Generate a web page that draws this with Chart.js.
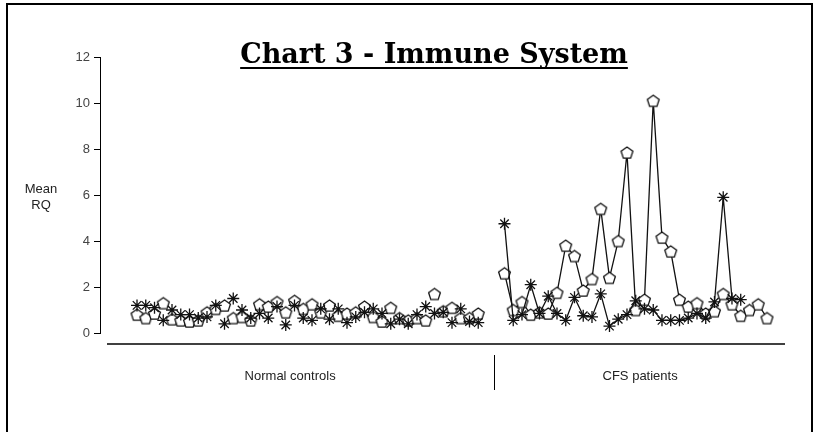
<!DOCTYPE html>
<html>
<head>
<meta charset="utf-8">
<script src="https://cdn.jsdelivr.net/npm/chart.js@4/dist/chart.umd.min.js"></script>
<style>
  html, body { margin: 0; padding: 0; background: #fff; }
  #wrap { position: relative; width: 817px; height: 432px; }
</style>
</head>
<body>
<div id="wrap"><canvas id="myChart"></canvas></div>
<script>
const groups = ['Normal controls', 'CFS patients'];
const yTicks = [0, 2, 4, 6, 8, 10, 12];

// mean RQ per subject
const normalPentagon = [0.8, 0.65, 0.85, 1.3, 0.6, 0.55, 0.5, 0.55, 0.9, 1.05,
  1.2, 0.65, 0.7, 0.55, 1.25, 1.15, 1.35, 0.9, 1.4, 1.05,
  1.25, 0.9, 1.2, 0.75, 0.85, 0.9, 1.15, 0.7, 0.5, 1.1,
  0.65, 0.55, 0.65, 0.55, 1.7, 0.95, 1.1, 0.65, 0.65, 0.85];
const normalAsterisk = [1.2, 1.2, 1.1, 0.55, 1.0, 0.8, 0.8, 0.65, 0.7, 1.2,
  0.4, 1.5, 1.0, 0.65, 0.85, 0.65, 1.15, 0.35, 1.2, 0.65,
  0.55, 1.05, 0.6, 1.05, 0.45, 0.7, 0.9, 1.05, 0.85, 0.4,
  0.6, 0.4, 0.8, 1.15, 0.85, 0.9, 0.45, 1.05, 0.5, 0.45];
const cfsPentagon = [2.6, 1.0, 1.35, 0.8, 0.9, 0.85, 1.75, 3.8, 3.35, 1.85,
  2.35, 5.4, 2.4, 4.0, 7.85, 1.0, 1.45, 10.1, 4.15, 3.55,
  1.45, 1.15, 1.3, 0.85, 0.95, 1.7, 1.25, 0.75, 1.0, 1.25, 0.65];
const cfsAsterisk = [4.75, 0.55, 0.8, 2.1, 0.85, 1.6, 0.85, 0.55, 1.55, 0.75,
  0.7, 1.7, 0.3, 0.6, 0.8, 1.4, 1.05, 1.0, 0.55, 0.55,
  0.55, 0.65, 0.85, 0.65, 1.35, 5.9, 1.5, 1.45, null, null, null];

const groupGap = 3;
const cfsStart = normalPentagon.length - 1 + groupGap;

function toPoints(values, start) {
  return values.map((v, i) => ({ x: start + i, y: v }));
}

function makePentagon() {
  const c = document.createElement('canvas');
  c.width = 15;
  c.height = 15;
  const g = c.getContext('2d');
  g.beginPath();
  for (let k = 0; k < 5; k++) {
    const a = -Math.PI / 2 + k * 2 * Math.PI / 5;
    const px = 7.5 + 6.2 * Math.cos(a);
    const py = 8.2 + 6.2 * Math.sin(a);
    if (k === 0) g.moveTo(px, py); else g.lineTo(px, py);
  }
  g.closePath();
  g.fillStyle = '#fff';
  g.fill();
  g.strokeStyle = '#111';
  g.lineWidth = 1.3;
  g.stroke();
  return c;
}
const pentagon = makePentagon();

const sansFont = "'Liberation Sans', Arial, sans-serif";

const pentStyle = {
  pointStyle: pentagon,
  borderColor: '#111',
  backgroundColor: '#fff',
  borderWidth: 1.3,
  order: 1
};
const astStyle = {
  pointStyle: 'star',
  pointRadius: 6,
  pointBorderWidth: 1.3,
  borderColor: '#111',
  backgroundColor: '#111',
  borderWidth: 1.3,
  order: 0
};

const decorations = {
  id: 'decorations',
  afterDraw(chart) {
    const { ctx, chartArea, scales } = chart;
    const x = scales.x;
    ctx.save();

    // frame
    ctx.strokeStyle = '#000';
    ctx.lineWidth = 2;
    ctx.strokeRect(7, 4, 805, 440);

    // title
    ctx.fillStyle = '#000';
    ctx.font = "bold 27px 'DejaVu Serif', serif";
    ctx.textAlign = 'center';
    ctx.textBaseline = 'alphabetic';
    const title = 'Chart 3 - Immune System';
    const tx = 434, ty = 63;
    ctx.fillText(title, tx, ty);
    const w = ctx.measureText(title).width;
    ctx.lineWidth = 2;
    ctx.beginPath();
    ctx.moveTo(tx - w / 2, ty + 5);
    ctx.lineTo(tx + w / 2, ty + 5);
    ctx.stroke();

    // y label
    ctx.font = '13px ' + sansFont;
    ctx.fillStyle = '#222';
    ctx.textBaseline = 'middle';
    ctx.fillText('Mean', 41, 189);
    ctx.fillText('RQ', 41, 205);

    // category axis
    const base = chartArea.bottom + 11;
    ctx.strokeStyle = '#000';
    ctx.lineWidth = 1.3;
    ctx.beginPath();
    ctx.moveTo(chartArea.left + 7, base);
    ctx.lineTo(chartArea.right, base);
    ctx.stroke();

    const divX = Math.round(x.getPixelForValue(cfsStart - 1.2)) + 0.5;
    ctx.lineWidth = 1;
    ctx.beginPath();
    ctx.moveTo(divX, base + 11);
    ctx.lineTo(divX, base + 46);
    ctx.stroke();

    const centers = [17.5, cfsStart + 15.5];
    ctx.fillStyle = '#222';
    groups.forEach((g, i) => {
      ctx.fillText(g, x.getPixelForValue(centers[i]), base + 32);
    });
    ctx.restore();
  }
};

const ctx = document.getElementById('myChart');

new Chart(ctx, {
  type: 'line',
  data: {
    datasets: [
      { label: 'Controls A', data: toPoints(normalPentagon, 0), showLine: false, ...pentStyle },
      { label: 'Controls B', data: toPoints(normalAsterisk, 0), showLine: false, ...astStyle },
      { label: 'CFS A', data: toPoints(cfsPentagon, cfsStart), showLine: true, ...pentStyle },
      { label: 'CFS B', data: toPoints(cfsAsterisk, cfsStart), showLine: true, ...astStyle }
    ]
  },
  options: {
    responsive: true,
    maintainAspectRatio: false,
    animation: false,
    layout: { padding: { left: 0, right: 32, top: 57, bottom: 99 } },
    plugins: {
      legend: { display: false },
      tooltip: { enabled: false }
    },
    elements: { line: { tension: 0 } },
    scales: {
      x: {
        type: 'linear',
        min: -4.23,
        max: 74.06,
        display: false
      },
      y: {
        min: yTicks[0],
        max: yTicks[yTicks.length - 1],
        afterBuildTicks: (s) => { s.ticks = yTicks.map(v => ({ value: v })); },
        afterFit: (s) => { s.width = 100; },
        ticks: {
          color: '#444',
          font: { family: sansFont, size: 13 },
          padding: 4
        },
        grid: { drawOnChartArea: false, tickLength: 6, color: '#000' },
        border: { color: '#000', width: 1 }
      }
    }
  },
  plugins: [decorations]
});
</script>
</body>
</html>
